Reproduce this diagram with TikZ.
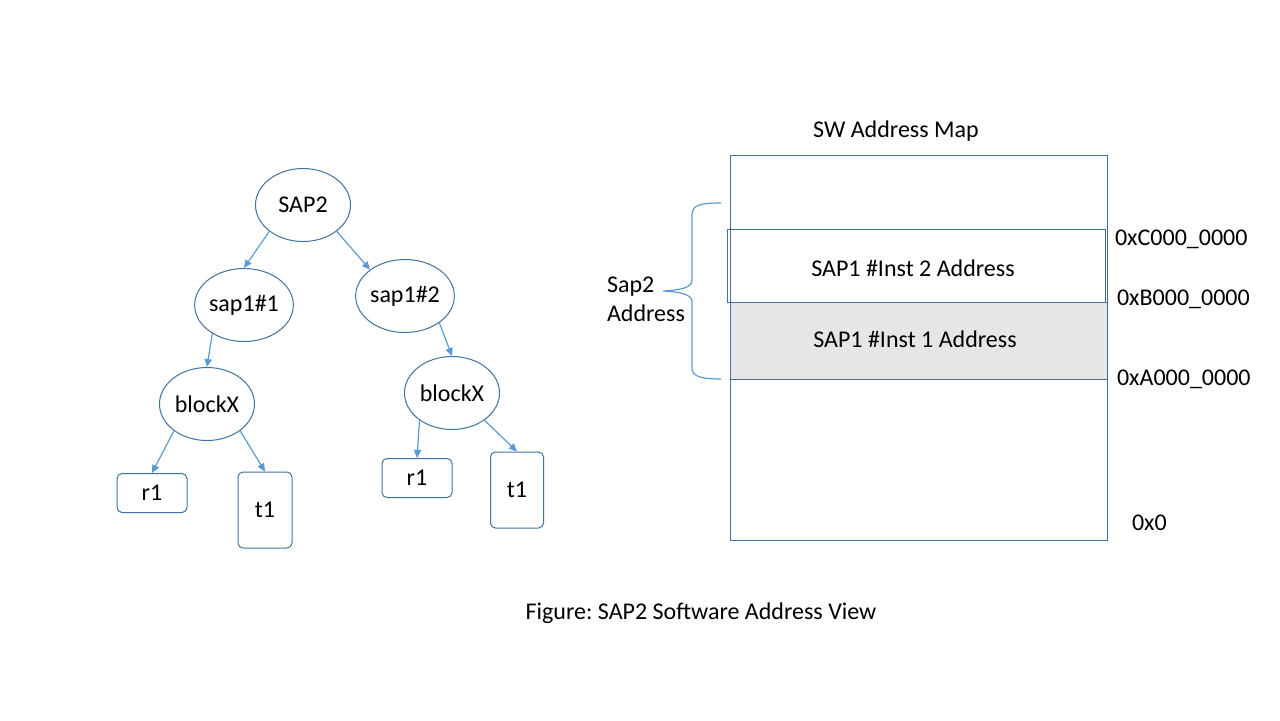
\documentclass[tikz,border=0pt]{standalone}
\usepackage{fontspec}
\setmainfont{Carlito}
\usetikzlibrary{shapes.geometric,arrows.meta}
\definecolor{edgeblue}{HTML}{41719C}
\definecolor{arrowblue}{HTML}{5B9BD5}
\definecolor{fillgray}{HTML}{E7E6E6}
\tikzset{
  elnode/.style={ellipse,draw=edgeblue,line width=0.5pt,minimum width=47.5pt,minimum height=36.5pt,inner sep=0pt},
  leafnode/.style={rectangle,rounded corners=2.5pt,draw=edgeblue,line width=0.5pt,inner sep=0pt},
  arr/.style={draw=arrowblue,line width=0.6pt,-{Triangle[length=4pt,width=3.6pt]}},
  mapbox/.style={draw=edgeblue,line width=0.5pt},
}
\frenchspacing

\begin{document}
\begin{tikzpicture}[x=0.5pt,y=-0.5pt,font=\fontsize{12}{14.5}\selectfont]
\useasboundingbox (0,0) rectangle (1280,720);
% tree of instances
\node[elnode] (sap2) at (303,205) {SAP2};
\node[elnode] (sap11) at (244,305) {sap1\#1};
\node[elnode] (sap12) at (405,296) {sap1\#2};
\node[elnode] (blkl) at (207,404) {blockX};
\node[elnode] (blkr) at (452,393) {blockX};
\node[leafnode,minimum width=35pt,minimum height=19.5pt] (r1l) at (152,493) {r1};
\node[leafnode,minimum width=27pt,minimum height=38pt] (t1l) at (265,510) {t1};
\node[leafnode,minimum width=35pt,minimum height=19.5pt] (r1r) at (417,478) {r1};
\node[leafnode,minimum width=26.5pt,minimum height=38pt] (t1r) at (517,490) {t1};
\draw[arr] (sap2.218) -- (sap11.north);
\draw[arr] (sap2.322) -- (sap12.143);
\draw[arr] (sap11.222) -- (blkl.north);
\draw[arr] (sap12.322) -- (blkr.north);
\draw[arr] (blkl.219) -- (r1l.north);
\draw[arr] (blkl.321) -- (t1l.north);
\draw[arr] (blkr.220) -- (r1r.north);
\draw[arr] (blkr.320) -- (t1r.north);
% address map
\node (title) at (896,131) {SW Address Map};
\draw[mapbox] (730,155) rectangle (1107,540);
\draw[mapbox] (727,229) rectangle (1105,302);
\draw[mapbox,fill=fillgray] (730,302) rectangle (1107,379);
\node (inst2) at (913,268) {SAP1 \#Inst 2 Address};
\node (inst1) at (915,339) {SAP1 \#Inst 1 Address};
\node[anchor=west] (adrc) at (1108,239) {0xC000\_0000};
\node[anchor=west] (adrb) at (1110,299) {0xB000\_0000};
\node[anchor=west] (adra) at (1110,379) {0xA000\_0000};
\node[anchor=west] (adr0) at (1125,523) {0x0};
% brace
\draw[draw=arrowblue,line width=0.6pt] (721,203) .. controls (700,203) and (692,205) .. (692,215)
  -- (692,280) .. controls (692,288) and (680,290) .. (663,291)
  .. controls (680,292) and (692,294) .. (692,302)
  -- (692,368) .. controls (692,376) and (700,379) .. (721,379);
\node[align=left,anchor=west] (sapaddr) at (600,299) {Sap2\\Address};
\node (caption) at (701,613) {Figure: SAP2 Software Address View};
\end{tikzpicture}
\end{document}
